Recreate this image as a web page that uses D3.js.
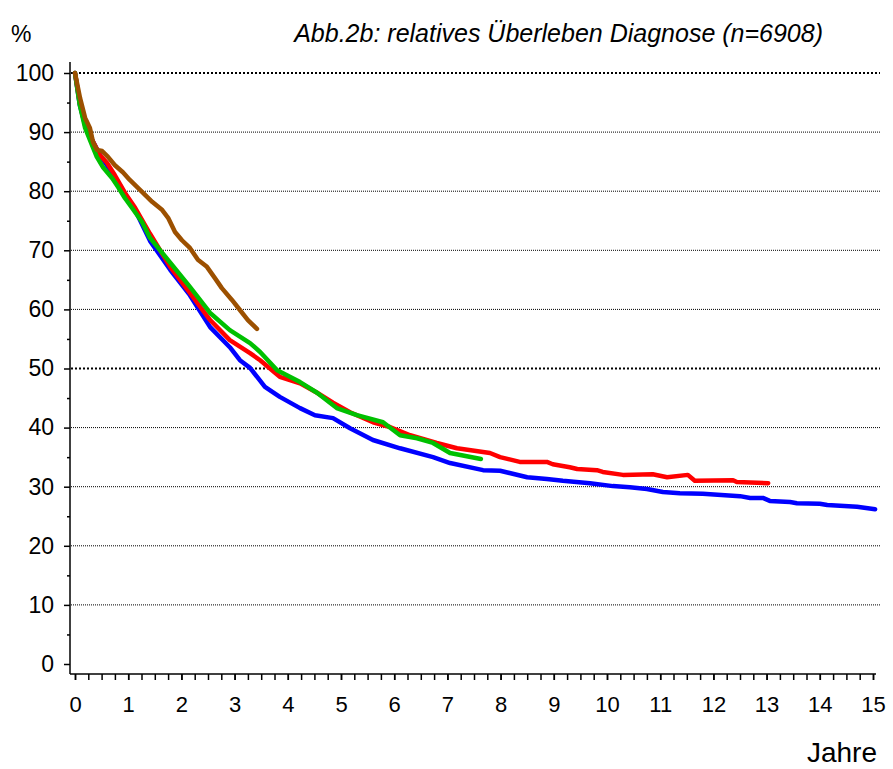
<!DOCTYPE html>
<html>
<head>
<meta charset="utf-8">
<script src="https://cdn.jsdelivr.net/npm/d3@7"></script>
<style>
  body { margin: 0; background: #fff; }
  text { font-family: "Liberation Sans", Arial, sans-serif; fill: #000; }
</style>
</head>
<body>
<script>
// survival curves, years since diagnosis vs relative survival (%)
var blueYears = [0, 0.09, 0.19, 0.32, 0.47, 0.60, 0.75, 0.94, 1.13, 1.41, 1.79, 2.16, 2.54, 2.91, 3.10, 3.29, 3.57, 3.85, 4.23, 4.51, 4.85, 5.17, 5.60, 6.11, 6.73, 7.05, 7.67, 7.99, 8.50, 8.87, 9.17, 9.68, 10.11, 10.43, 10.75, 11.05, 11.37, 11.80, 12.50, 12.69, 12.93, 13.06, 13.44, 13.57, 14.00, 14.14, 14.70, 15.04];
var bluePct = [100, 94.6, 91.2, 88.7, 86.1, 84.4, 82.4, 79.5, 76.8, 71.6, 66.7, 62.4, 57.0, 53.6, 51.4, 50.1, 46.9, 45.2, 43.3, 42.1, 41.6, 39.9, 37.9, 36.5, 35.0, 34.0, 32.8, 32.7, 31.6, 31.3, 31.0, 30.6, 30.1, 29.9, 29.6, 29.1, 28.9, 28.8, 28.4, 28.1, 28.1, 27.6, 27.4, 27.2, 27.1, 26.9, 26.6, 26.2];

var redYears = [0, 0.09, 0.19, 0.32, 0.47, 0.60, 0.75, 0.94, 1.13, 1.41, 1.79, 2.16, 2.54, 2.91, 3.29, 3.48, 3.85, 4.23, 4.55, 4.85, 5.17, 5.60, 5.92, 6.30, 6.80, 7.18, 7.80, 7.99, 8.36, 8.87, 8.98, 9.30, 9.44, 9.81, 9.92, 10.30, 10.86, 11.13, 11.52, 11.65, 12.37, 12.44, 13.03];
var redPct = [100, 94.9, 91.2, 88.7, 86.1, 84.8, 82.7, 79.7, 77.2, 72.8, 67.2, 62.8, 58.2, 54.8, 52.6, 51.4, 48.6, 47.5, 45.9, 44.2, 42.6, 40.9, 40.1, 38.7, 37.4, 36.5, 35.7, 35.0, 34.2, 34.2, 33.8, 33.3, 33.0, 32.8, 32.5, 32.0, 32.1, 31.6, 32.0, 31.0, 31.1, 30.8, 30.6];

var greenYears = [0, 0.09, 0.19, 0.32, 0.41, 0.53, 0.70, 0.81, 0.94, 1.07, 1.26, 1.41, 1.79, 2.16, 2.54, 2.91, 3.29, 3.48, 3.80, 4.23, 4.55, 4.92, 5.30, 5.79, 6.11, 6.43, 6.73, 7.05, 7.63];
var greenPct = [100, 94.6, 90.7, 87.8, 85.8, 84.0, 82.2, 80.7, 78.8, 77.2, 74.8, 72.1, 67.9, 63.8, 59.4, 56.5, 54.3, 52.8, 49.7, 47.7, 45.9, 43.3, 42.1, 40.9, 38.7, 38.2, 37.4, 35.7, 34.7];

var brownYears = [0, 0.094, 0.19, 0.28, 0.34, 0.41, 0.51, 0.62, 0.75, 0.90, 1.03, 1.26, 1.45, 1.64, 1.75, 1.88, 2.01, 2.16, 2.31, 2.48, 2.63, 2.76, 2.95, 3.10, 3.25, 3.42];
var brownPct = [100, 95.8, 92.4, 90.7, 88.3, 87.0, 86.8, 85.8, 84.4, 83.2, 81.9, 79.9, 78.2, 76.8, 75.5, 73.1, 71.7, 70.4, 68.4, 67.2, 65.3, 63.6, 61.6, 59.9, 58.2, 56.7];

var yTicks = [0, 10, 20, 30, 40, 50, 60, 70, 80, 90, 100];
var xTicks = d3.range(0, 16);

function main() {
  var width = 893, height = 769;

  var svg = d3.select("body").append("svg")
    .attr("width", width)
    .attr("height", height);

  var x = d3.scaleLinear().domain([0, 15]).range([75, 873]);
  var y = d3.scaleLinear().domain([0, 100]).range([664, 73]);

  var axisX = 70, axisY = 674;

  // dotted gridlines, 100 and 50 a bit heavier
  svg.append("g").selectAll("line")
    .data(yTicks.filter(function (d) { return d > 0; }))
    .enter().append("line")
    .attr("x1", axisX + 1)
    .attr("x2", 880)
    .attr("y1", function (d) { return y(d); })
    .attr("y2", function (d) { return y(d); })
    .attr("stroke", "#000")
    .attr("stroke-width", function (d) { return d % 50 === 0 ? 2 : 1; })
    .attr("stroke-dasharray", function (d) { return d % 50 === 0 ? "2,2" : "1,1"; });

  // y axis
  svg.append("line")
    .attr("x1", axisX).attr("x2", axisX)
    .attr("y1", 62).attr("y2", axisY)
    .attr("stroke", "#000").attr("stroke-width", 1.5);

  var yMinor = svg.append("g").attr("transform", "translate(" + axisX + ",0)")
    .call(d3.axisLeft(y).tickValues(d3.range(5, 100, 10)).tickSize(3).tickFormat(""));
  var yMajor = svg.append("g").attr("transform", "translate(" + axisX + ",0)")
    .call(d3.axisLeft(y).tickValues(yTicks).tickSize(6).tickPadding(10));
  [yMinor, yMajor].forEach(function (g) {
    g.select(".domain").remove();
    g.selectAll("line").attr("stroke", "#000").attr("stroke-width", 1.5);
  });
  yMajor.selectAll("text")
    .style("font-size", "23px")
    .style("font-family", "'Liberation Sans', Arial, sans-serif")
    .attr("fill", "#000");

  // x axis
  svg.append("line")
    .attr("x1", axisX).attr("x2", 876)
    .attr("y1", axisY).attr("y2", axisY)
    .attr("stroke", "#000").attr("stroke-width", 1.5);

  var xMinor = svg.append("g").attr("transform", "translate(0," + axisY + ")")
    .call(d3.axisBottom(x).tickValues(d3.range(0, 15.01, 0.25)).tickSize(6).tickFormat(""));
  var xMajor = svg.append("g").attr("transform", "translate(0," + axisY + ")")
    .call(d3.axisBottom(x).tickValues(xTicks).tickSize(6).tickPadding(16));
  [xMinor, xMajor].forEach(function (g) {
    g.select(".domain").remove();
    g.selectAll("line").attr("stroke", "#000").attr("stroke-width", 1.5);
  });
  xMajor.selectAll("text")
    .style("font-size", "22px")
    .style("font-family", "'Liberation Sans', Arial, sans-serif")
    .attr("fill", "#000");

  // curves
  var series = [
    { xs: blueYears, ys: bluePct, color: "#0000ff" },
    { xs: redYears, ys: redPct, color: "#ff0000" },
    { xs: greenYears, ys: greenPct, color: "#00c000" },
    { xs: brownYears, ys: brownPct, color: "#9c5000" }
  ];

  var line = d3.line()
    .x(function (d) { return x(d[0]); })
    .y(function (d) { return y(d[1]); });

  series.forEach(function (s) {
    var pts = s.xs.map(function (v, i) { return [v, s.ys[i]]; });
    svg.append("path")
      .datum(pts)
      .attr("d", line)
      .attr("fill", "none")
      .attr("stroke", s.color)
      .attr("stroke-width", 4.5)
      .attr("stroke-linejoin", "round")
      .attr("stroke-linecap", "round");
  });

  // labels
  svg.append("text")
    .attr("x", 11).attr("y", 42)
    .style("font-size", "23px")
    .text("%");

  svg.append("text")
    .attr("x", 823).attr("y", 42)
    .attr("text-anchor", "end")
    .style("font-size", "25px")
    .style("font-style", "italic")
    .text("Abb.2b: relatives Überleben Diagnose (n=6908)");

  svg.append("text")
    .attr("x", 877).attr("y", 762)
    .attr("text-anchor", "end")
    .style("font-size", "28px")
    .text("Jahre");
}
document.addEventListener("DOMContentLoaded", main);
</script>
</body>
</html>
